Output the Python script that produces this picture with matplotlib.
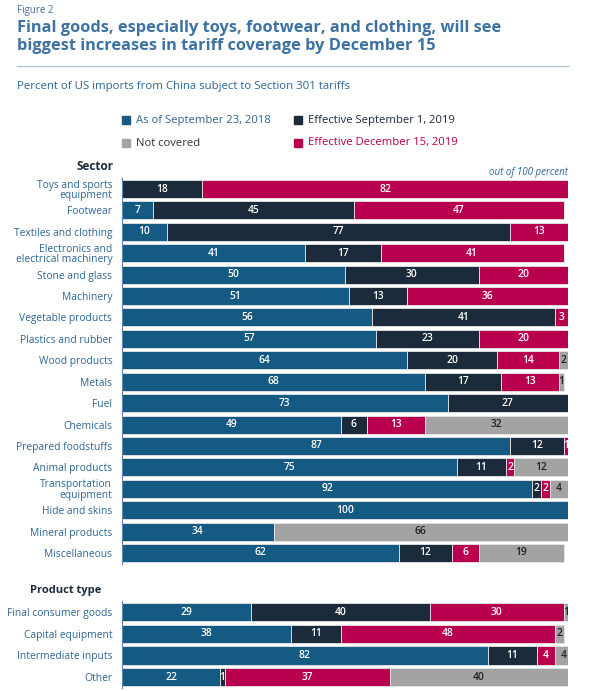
import numpy as np
import matplotlib.pyplot as plt

plt.rcParams['font.family'] = ['Open Sans', 'DejaVu Sans']

# Data: percent of US imports from China subject to Section 301 tariffs
sectors = ["Toys and sports\nequipment", "Footwear", "Textiles and clothing",
           "Electronics and\nelectrical machinery", "Stone and glass", "Machinery",
           "Vegetable products", "Plastics and rubber", "Wood products", "Metals",
           "Fuel", "Chemicals", "Prepared foodstuffs", "Animal products",
           "Transportation\nequipment", "Hide and skins", "Mineral products",
           "Miscellaneous"]
sec_sep2018 = [0, 7, 10, 41, 50, 51, 56, 57, 64, 68, 73, 49, 87, 75, 92, 100, 34, 62]
sec_sep2019 = [18, 45, 77, 17, 30, 13, 41, 23, 20, 17, 27, 6, 12, 11, 2, 0, 0, 12]
sec_dec2019 = [82, 47, 13, 41, 20, 36, 3, 20, 14, 13, 0, 13, 1, 2, 2, 0, 0, 6]
sec_notcov = [0, 0, 0, 0, 0, 0, 0, 0, 2, 1, 0, 32, 0, 12, 4, 0, 66, 19]

products = ["Final consumer goods", "Capital equipment", "Intermediate inputs", "Other"]
prod_sep2018 = [29, 38, 82, 22]
prod_sep2019 = [40, 11, 11, 1]
prod_dec2019 = [30, 48, 4, 37]
prod_notcov = [1, 2, 4, 40]

series_names = ["As of September 23, 2018", "Effective September 1, 2019",
                "Effective December 15, 2019", "Not covered"]
colors = ["#155a82", "#1b2b3c", "#b9004f", "#a3a3a3"]
text_colors = ["white", "white", "white", "#222222"]
label_blue = "#2e6593"
title_blue = "#3e72a2"

W, H = 590, 691
fig = plt.figure(figsize=(W / 100, H / 100), dpi=100)


def fx(px):
    return px / W


def fy(py):
    return 1 - py / H


def draw_block(ax, cats, series):
    n = len(cats)
    y = np.arange(n)
    left = np.zeros(n)
    for vals, c, tc in zip(series, colors, text_colors):
        vals = np.array(vals, dtype=float)
        ax.barh(y, vals, left=left, height=0.84, color=c, edgecolor="#e6e6e6",
                linewidth=0.6)
        for yi, l, v in zip(y, left, vals):
            if v > 0:
                ax.text(l + v / 2, yi, f"{int(v)}", ha="center", va="center",
                        color=tc, fontsize=7.4, fontweight="semibold")
        left += vals
    ax.set_xlim(0, 100)
    ax.set_ylim(n - 0.5, -0.5)
    ax.set_yticks(y)
    ax.set_yticklabels(cats, color=label_blue, fontsize=7.4, linespacing=0.95)
    ax.tick_params(axis="y", length=0, pad=7)
    ax.set_xticks([])
    for s in ["top", "right", "bottom"]:
        ax.spines[s].set_visible(False)
    ax.spines["left"].set_color("#5a86ad")
    ax.spines["left"].set_linewidth(0.8)


# sector panel
ax1 = fig.add_axes([fx(122), fy(563.7), fx(446), 385.4 / H])
draw_block(ax1, sectors, [sec_sep2018, sec_sep2019, sec_dec2019, sec_notcov])

# product type panel
ax2 = fig.add_axes([fx(122), fy(688), fx(446), 86.8 / H])
draw_block(ax2, products, [prod_sep2018, prod_sep2019, prod_dec2019, prod_notcov])

# titles and annotations
fig.text(fx(17), fy(10), "Figure 2", color=title_blue, fontsize=7, va="center")
fig.text(fx(17), fy(37), "Final goods, especially toys, footwear, and clothing, will see\n"
         "biggest increases in tariff coverage by December 15",
         color=title_blue, fontsize=11.8, fontweight="bold", va="center", linespacing=1.15)
fig.add_artist(plt.Line2D([fx(17), fx(568)], [fy(66), fy(66)], color="#a9c2da", lw=0.9))
fig.text(fx(17), fy(86), "Percent of US imports from China subject to Section 301 tariffs",
         color=label_blue, fontsize=8.2, va="center")

# legend
leg_pos = [(126, 120), (298, 120), (298, 143), (126, 143)]
leg_text = [label_blue, "#1b2b3c", "#b9004f", "#333333"]
for name, c, tc, (px, py) in zip(series_names, colors, leg_text, leg_pos):
    fig.patches.append(plt.Rectangle((fx(px - 4), fy(py + 4)), fx(8), 8 / H,
                                     transform=fig.transFigure, color=c))
    fig.text(fx(px + 10), fy(py), name, color=tc, fontsize=8.1, va="center")

fig.text(fx(114), fy(166), "Sector", color="#1b2b3c", fontsize=8.5,
         fontweight="bold", ha="right", va="center")
fig.text(fx(568), fy(173), "out of 100 percent", color=label_blue, fontsize=7,
         style="italic", ha="right", va="center")
fig.text(fx(101), fy(591), "Product type", color="#1b2b3c", fontsize=8,
         fontweight="bold", ha="right", va="center")

fig.savefig("out.png", dpi=100)
